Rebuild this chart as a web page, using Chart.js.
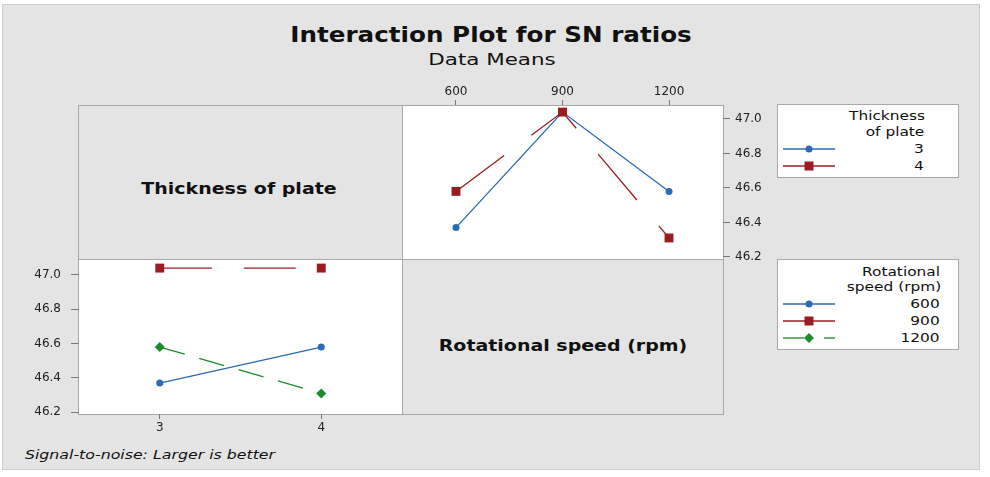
<!DOCTYPE html>
<html><head><meta charset="utf-8">
<script src="https://cdn.jsdelivr.net/npm/chart.js@4.4.1/dist/chart.umd.min.js"></script>
<style>
html,body{margin:0;padding:0;background:#fff;width:990px;height:477px;overflow:hidden;font-family:"DejaVu Sans",sans-serif;}
#frame{position:absolute;left:2px;top:4px;width:978px;height:466px;background:#e4e4e4;border:1px solid #cdcdcd;box-sizing:border-box;}
.panel{position:absolute;box-sizing:border-box;border:1px solid #a8a8a8;}
.lbl{position:absolute;white-space:nowrap;color:#111;line-height:1;}
.leg{position:absolute;background:#fff;border:1px solid #a8a8a8;box-sizing:border-box;}
canvas{position:absolute;}
svg{position:absolute;overflow:visible;}
</style></head>
<body>
<div id="frame"></div>
<div class="panel" style="left:78px;top:105px;width:325px;height:155px;background:#e4e4e4"></div>
<div class="panel" style="left:402px;top:105px;width:322px;height:155px;background:#fff"></div>
<div class="panel" style="left:78px;top:259px;width:325px;height:156px;background:#fff"></div>
<div class="panel" style="left:402px;top:259px;width:322px;height:156px;background:#e4e4e4"></div>
<div class="leg" style="left:777px;top:104px;width:182px;height:74px"></div>
<div class="leg" style="left:777px;top:259px;width:182px;height:91px"></div>
<canvas id="cA" width="371" height="195" style="left:402px;top:80px;width:371px;height:195px"></canvas>
<canvas id="cB" width="373" height="200" style="left:29px;top:239px;width:373px;height:200px"></canvas>
<div id="texts"></div>
<script>
// ---- data ----
const speeds = [600, 900, 1200];          // Rotational speed (rpm)
const thicknessLevels = [3, 4];           // Thickness of plate
const snThick3 = [46.37, 47.04, 46.58];   // SN ratio means, thickness 3, by speed
const snThick4 = [46.58, 47.04, 46.31];   // SN ratio means, thickness 4, by speed
const yTicks = [46.2, 46.4, 46.6, 46.8, 47.0];
const thickLabels = ['3', '4'];
const speedLabels = ['600', '900', '1200'];

const BLUE = '#2a6bb3', RED = '#9b1c20', GREEN = '#1d8a2c';
const thickColors = [BLUE, RED];
const speedColors = [BLUE, RED, GREEN];
const speedStyles = ['circle', 'rect', 'rectRot'];
const speedRadius = [3.5, 6.3, 5];
const speedDash = [[], [52, 32], [26, 15]];

const snByThick = [snThick3, snThick4];

const tickFont = {family: 'DejaVu Sans', size: 12};
const gridTicks = (len) => ({display: true, drawOnChartArea: false, drawTicks: true, tickLength: len, color: '#777'});

// ---- Chart A: SN vs speed, lines = thickness ----
new Chart(document.getElementById('cA'), {
  type: 'line',
  data: {
    datasets: thicknessLevels.map((t, j) => ({
      label: String(t),
      data: speeds.map((s, i) => ({x: s, y: snByThick[j][i]})),
      borderColor: thickColors[j], backgroundColor: thickColors[j],
      borderWidth: 1.3, borderDash: j === 1 ? [60, 34] : [],
      pointStyle: j === 0 ? 'circle' : 'rect', pointRadius: j === 0 ? 3.5 : 6.3,
      pointBorderWidth: 0, tension: 0, clip: false, order: j === 1 ? -1 : 0
    }))
  },
  options: {
    responsive: false, animation: false,
    layout: {autoPadding: false, padding: {left: 0, right: 0, top: 0, bottom: 16}},
    plugins: {legend: {display: false}, tooltip: {enabled: false}},
    scales: {
      x: {type: 'linear', position: 'top', min: 448, max: 1352,
          afterBuildTicks: s => { s.ticks = speeds.map(v => ({value: v})); },
          afterFit: s => { s.height = 25; },
          grid: gridTicks(5), border: {display: false},
          ticks: {font: tickFont, color: '#222', padding: 1, maxRotation: 0, callback: v => String(v)}},
      y: {type: 'linear', position: 'right', min: 46.188, max: 47.081,
          afterBuildTicks: s => { s.ticks = yTicks.map(v => ({value: v})); },
          afterFit: s => { s.width = 50; },
          grid: gridTicks(7), border: {display: false},
          ticks: {font: tickFont, color: '#222', padding: 5, callback: v => Number(v).toFixed(1)}}
    }
  }
});

// ---- Chart B: SN vs thickness, lines = speed ----
new Chart(document.getElementById('cB'), {
  type: 'line',
  data: {
    datasets: speeds.map((s, i) => ({
      label: String(s),
      data: thicknessLevels.map((t, j) => ({x: t, y: snByThick[j][i]})),
      borderColor: speedColors[i], backgroundColor: speedColors[i],
      borderWidth: 1.3, borderDash: speedDash[i],
      pointStyle: speedStyles[i], pointRadius: speedRadius[i],
      pointBorderWidth: 0, tension: 0, clip: false
    }))
  },
  options: {
    responsive: false, animation: false,
    layout: {autoPadding: false, padding: {left: 0, right: 0, top: 20, bottom: 0}},
    plugins: {legend: {display: false}, tooltip: {enabled: false}},
    scales: {
      x: {type: 'linear', position: 'bottom', min: 2.5, max: 4.5,
          afterBuildTicks: s => { s.ticks = thicknessLevels.map(v => ({value: v})); },
          afterFit: s => { s.height = 25; },
          grid: gridTicks(5), border: {display: false},
          ticks: {font: tickFont, color: '#222', padding: 2, maxRotation: 0, callback: v => String(v)}},
      y: {type: 'linear', position: 'left', min: 46.19, max: 47.093,
          afterBuildTicks: s => { s.ticks = yTicks.map(v => ({value: v})); },
          afterFit: s => { s.width = 50; },
          grid: gridTicks(8), border: {display: false},
          ticks: {font: tickFont, color: '#222', padding: 10, callback: v => Number(v).toFixed(1)}}
    }
  }
});

// ---- texts ----
const host = document.getElementById('texts');
function label(text, x, y, font, opts) {
  const el = document.createElement('div');
  el.className = 'lbl';
  el.style.font = font;
  el.textContent = text;
  host.appendChild(el);
  const w = el.offsetWidth;
  const sx = opts.w ? opts.w / w : (opts.sx || 1);
  const sw = w * sx;
  let cx = x;
  if (opts.align === 'right') cx = x - sw / 2;
  else if (opts.align === 'left') cx = x + sw / 2;
  el.style.left = cx + 'px';
  el.style.top = y + 'px';
  el.style.transform = 'translate(-50%,-50%) scaleX(' + sx + ')';
}
const DV = '"DejaVu Sans", sans-serif';
label('Interaction Plot for SN ratios', 491, 34, 'bold 22px ' + DV, {w: 402});
label('Data Means', 491.5, 59, '16px ' + DV, {w: 127});
label('Thickness of plate', 239, 189, 'bold 15px ' + DV, {w: 195});
label('Rotational speed (rpm)', 562.5, 346, 'bold 15px ' + DV, {w: 248});
label('Signal-to-noise: Larger is better', 25, 454, 'italic 12.5px ' + DV, {w: 250, align: 'left'});

const legFont = '12px ' + DV;
label('Thickness', 925, 116, legFont, {sx: 1.28, align: 'right'});
label('of plate', 924, 132, legFont, {sx: 1.28, align: 'right'});
const leg1Y = [149, 166];
thickLabels.forEach((t, j) => label(t, 924, leg1Y[j], legFont, {sx: 1.28, align: 'right'}));
label('Rotational', 940, 272, legFont, {sx: 1.28, align: 'right'});
label('speed (rpm)', 941, 287, legFont, {sx: 1.28, align: 'right'});
const leg2Y = [304, 321, 338];
speedLabels.forEach((t, i) => label(t, 940, leg2Y[i], legFont, {sx: 1.28, align: 'right'}));

// ---- legend samples ----
function marker(shape, color) {
  if (shape === 'circle') return '<circle cx="26" cy="5" r="3.5" fill="' + color + '"/>';
  if (shape === 'rect') return '<rect x="21.5" y="0.5" width="9" height="9" fill="' + color + '"/>';
  return '<polygon points="26,0 31,5 26,10 21,5" fill="' + color + '"/>';
}
function sample(y, color, shape, dashed) {
  const svg = document.createElementNS('http://www.w3.org/2000/svg', 'svg');
  svg.setAttribute('width', '54'); svg.setAttribute('height', '10');
  svg.style.left = '783px'; svg.style.top = (y - 5) + 'px';
  let lines = dashed
    ? '<line x1="0" y1="5" x2="21" y2="5" stroke="' + color + '" stroke-width="1.3"/><line x1="41" y1="5" x2="52" y2="5" stroke="' + color + '" stroke-width="1.3"/>'
    : '<line x1="0" y1="5" x2="52" y2="5" stroke="' + color + '" stroke-width="1.3"/>';
  svg.innerHTML = lines + marker(shape, color);
  document.body.appendChild(svg);
}
thickLabels.forEach((t, j) => sample(leg1Y[j], thickColors[j], j === 0 ? 'circle' : 'rect', false));
speedLabels.forEach((t, i) => sample(leg2Y[i], speedColors[i], speedStyles[i], i === 2));
</script>
</body></html>
